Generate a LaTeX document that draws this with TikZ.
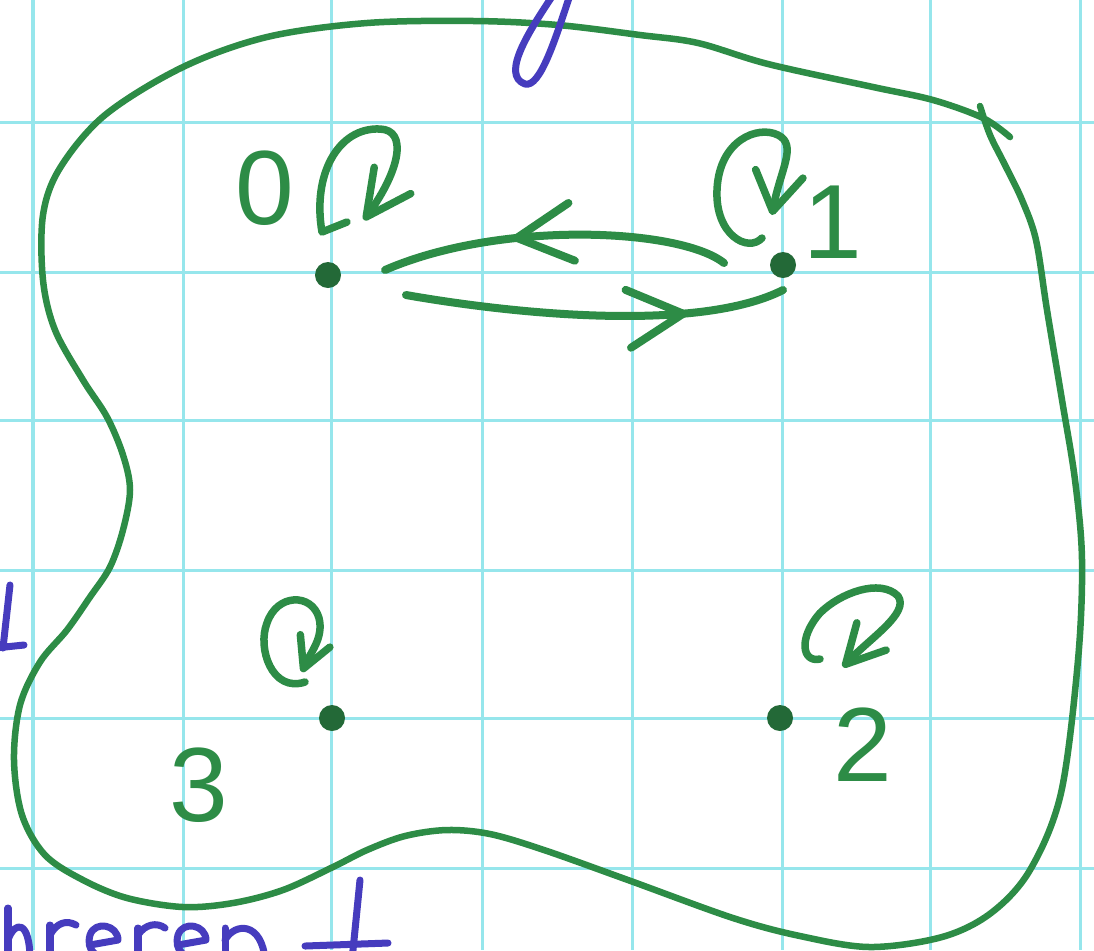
\documentclass[tikz,border=0pt]{standalone}
\usepackage{fontspec}
\setmainfont{Liberation Sans}
\usetikzlibrary{arrows.meta,decorations.markings,calc}
\definecolor{gridc}{RGB}{150,230,236}
\definecolor{ink}{RGB}{45,140,70}
\definecolor{inkdark}{RGB}{35,105,55}
\definecolor{blueink}{RGB}{70,60,190}
\begin{document}
\begin{tikzpicture}[x=0.01cm,y=-0.01cm,
  gridline/.style={draw=gridc,line width=0.03cm},
  outline/.style={draw=ink,line width=0.065cm,line cap=round,line join=round},
  statedot/.style={circle,fill=inkdark,minimum size=0.26cm,inner sep=0pt},
  statelabel/.style={text=ink,font=\fontsize{30}{30}\selectfont,inner sep=0pt},
  selfloop/.style={draw,color=ink,line width=0.075cm,line cap=round,line join=round},
  linkarc/.style={draw,color=ink,line width=0.08cm,line cap=round},
  midtip/.style={decoration={markings,mark=at position #1 with {\arrow{Straight Barb[length=0.55cm,width=0.58cm,round]}}},postaction={decorate}},
  bluepen/.style={draw=blueink,line width=0.07cm,line cap=round,line join=round}]
\useasboundingbox (0,0) rectangle (1094,950);
\fill[white] (0,0) rectangle (1094,950);
% graph paper
\foreach \gx in {33,183,331,482,632,782,930,1080} \draw[gridline] (\gx,0) -- (\gx,950);
\foreach \gy in {122,272,420,570,718,868} \draw[gridline] (0,\gy) -- (1094,\gy);
% outline of the set
\draw[outline] plot[smooth,tension=0.55] coordinates {(980,106) (990,135) (1005,165) (1022,200) (1036,240) (1047,310) (1062,400) (1075,480) (1082,560) (1078,660) (1061,793) (1030,870) (991,913) (942,937) (870,947) (800,936) (733,918) (628,880) (544,850) (490,834) (447,830) (405,836) (367,850) (333,867) (283,890) (233,903) (183,907) (127,898) (83,880) (45,855) (22,815) (14,760) (20,705) (40,662) (67,630) (90,597) (110,567) (123,530) (130,490) (123,455) (107,417) (83,380) (55,330) (43,280) (43,215) (60,168) (105,115) (183,67) (267,37) (367,23) (475,21) (558,25) (640,35) (698,43) (768,64) (873,87) (933,100) (983,118) (1010,137)};
% states
\node[statedot] (n0) at (328,275) {};
\node[statedot] (n1) at (783,265) {};
\node[statedot] (n2) at (780,718) {};
\node[statedot] (n3) at (332,718) {};
\node[statelabel] (l0) at (265,188) {0};
\node[statelabel] (l1) at (833,222) {1};
\node[statelabel] (l2) at (863,745) {2};
\node[statelabel] (l3) at (199,785) {3};
% transitions between 0 and 1
\draw[linkarc,midtip=0.62] ($(n1)+(-59,-2)$) .. controls ($(n1)+(-103,-37)$) and ($(n0)+(172,-55)$) .. ($(n0)+(57,-5)$);
\draw[linkarc,midtip=0.74] ($(n0)+(78,20)$) .. controls ($(n0)+(192,40)$) and ($(n1)+(-83,67)$) .. ($(n1)+(0,25)$);
% self loops
\begin{scope}[shift={(n0.center)}]
\draw[selfloop,-{Straight Barb[length=0.45cm,width=0.45cm,round]}] (19,-53) -- (-6,-43) .. controls (-16,-100) and (10,-148) .. (52,-146) .. controls (80,-145) and (72,-105) .. (36,-55);
\end{scope}
\begin{scope}[shift={(n1.center)}]
\draw[selfloop,-{Straight Barb[length=0.38cm,width=0.48cm,round]}] (-21,-27) .. controls (-35,-12) and (-68,-30) .. (-66,-75) .. controls (-64,-125) and (-25,-140) .. (-5,-130) .. controls (15,-120) and (-3,-95) .. (-11,-50);
\end{scope}
\begin{scope}[shift={(n3.center)}]
\draw[selfloop,-{Straight Barb[length=0.3cm,width=0.32cm,round]}] (-27,-36) .. controls (-60,-25) and (-75,-70) .. (-65,-95) .. controls (-55,-125) and (-20,-125) .. (-13,-100) .. controls (-8,-80) and (-22,-65) .. (-30,-46);
\end{scope}
\begin{scope}[shift={(n2.center)}]
\draw[selfloop,-{Straight Barb[length=0.38cm,width=0.4cm,round]}] (40,-59) .. controls (22,-55) and (18,-80) .. (40,-105) .. controls (60,-125) and (100,-140) .. (118,-122) .. controls (130,-105) and (90,-80) .. (63,-51);
\end{scope}
% blue handwriting fragments cut by the page edge
\draw[bluepen] (553,-5) .. controls (530,30) and (500,75) .. (525,84) .. controls (540,88) and (555,40) .. (570,-5);
\draw[bluepen] (10,585) -- (3,648);
\draw[bluepen] (-5,648) -- (24,645);
\draw[bluepen] (8,908) -- (8,960);
\draw[bluepen] (8,940) .. controls (15,920) and (30,920) .. (30,960);
\draw[bluepen] (50,960) -- (50,925);
\draw[bluepen] (50,935) .. controls (57,922) and (67,920) .. (76,925);
\draw[bluepen] (90,945) -- (118,940) .. controls (118,925) and (95,920) .. (90,935) .. controls (86,950) and (95,960) .. (118,958);
\draw[bluepen] (138,960) -- (138,928);
\draw[bluepen] (138,935) .. controls (145,924) and (157,922) .. (165,928);
\draw[bluepen] (178,945) -- (206,940) .. controls (206,925) and (183,920) .. (178,935) .. controls (174,950) and (183,960) .. (206,958);
\draw[bluepen] (225,960) -- (225,928);
\draw[bluepen] (225,940) .. controls (235,922) and (262,922) .. (265,960);
\draw[bluepen] (360,880) -- (352,960);
\draw[bluepen] (305,946) -- (388,943);
\end{tikzpicture}
\end{document}
